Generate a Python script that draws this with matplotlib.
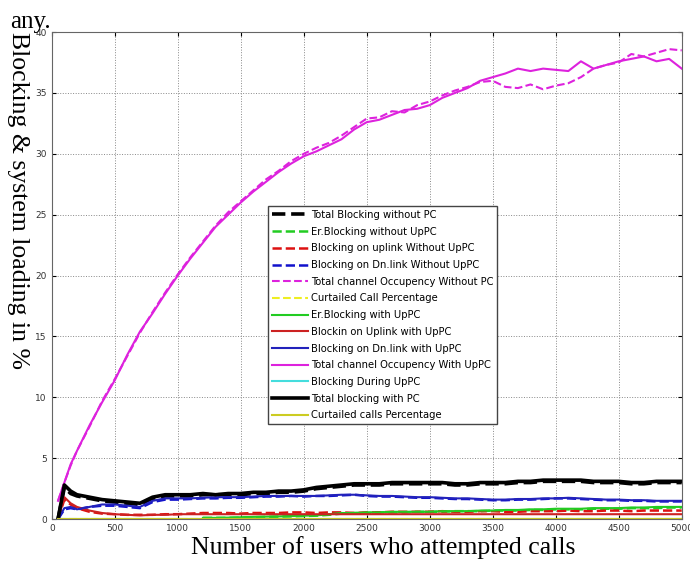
import numpy as np
import matplotlib
matplotlib.use('Agg')
import matplotlib.pyplot as plt

# sample grid (number of users who attempted calls)
x = np.r_[50, 100, 150, 200, np.arange(300, 5001, 100)]

# total channel occupancy
occ_pc = [1.5, 3.0, 4.5, 5.6, 7.7, 9.6, 11.4, 13.5, 15.4, 16.9, 18.5, 20.0,
          21.4, 22.7, 24.0, 25.0, 26.0, 26.9, 27.7, 28.5, 29.2, 29.8, 30.2,
          30.7, 31.2, 32.0, 32.6, 32.8, 33.2, 33.6, 33.7, 34.0, 34.6, 35.0,
          35.4, 36.0, 36.3, 36.6, 37.0, 36.8, 37.0, 36.9, 36.8, 37.6, 37.0,
          37.3, 37.6, 37.8, 38.0, 37.6, 37.8, 37.0]
occ_nopc = [1.5, 3.0, 4.4, 5.6, 7.6, 9.7, 11.5, 13.4, 15.3, 17.0, 18.6, 20.1,
            21.5, 22.8, 24.1, 25.2, 26.1, 27.0, 27.9, 28.6, 29.4, 30.0, 30.5,
            30.9, 31.5, 32.2, 32.9, 33.0, 33.5, 33.4, 34.0, 34.3, 34.8, 35.2,
            35.5, 35.9, 36.0, 35.5, 35.4, 35.7, 35.3, 35.6, 35.8, 36.3, 37.0,
            37.3, 37.5, 38.2, 38.0, 38.3, 38.6, 38.5]

# total blocking
tot_pc = [0.0, 2.8, 2.3, 2.0, 1.8, 1.6, 1.5, 1.4, 1.3, 1.8, 2.0, 2.0,
          2.0, 2.1, 2.0, 2.1, 2.1, 2.2, 2.2, 2.3, 2.3, 2.4, 2.6, 2.7, 2.8,
          2.9, 2.9, 2.9, 3.0, 3.0, 3.0, 3.0, 3.0, 2.9, 2.9, 3.0, 3.0, 3.0,
          3.1, 3.1, 3.2, 3.2, 3.2, 3.2, 3.1, 3.1, 3.1, 3.0, 3.0, 3.1, 3.1, 3.1]
tot_nopc = [0.0, 2.6, 2.1, 1.9, 1.7, 1.5, 1.4, 1.3, 1.2, 1.7, 1.9, 1.9,
            1.9, 2.0, 2.0, 2.0, 2.0, 2.1, 2.1, 2.2, 2.2, 2.3, 2.5, 2.6, 2.7,
            2.8, 2.8, 2.8, 2.9, 2.9, 2.9, 2.9, 2.9, 2.8, 2.8, 2.9, 2.9, 2.9,
            3.0, 3.0, 3.1, 3.1, 3.1, 3.1, 3.0, 3.0, 3.0, 2.9, 2.9, 3.0, 3.0, 3.0]

# blocking on downlink
dn_pc = [0.0, 0.9, 1.0, 0.8, 1.0, 1.2, 1.2, 1.1, 1.0, 1.5, 1.7, 1.7,
         1.7, 1.75, 1.8, 1.8, 1.8, 1.85, 1.9, 1.9, 1.9, 1.9, 1.9, 1.95, 2.0,
         2.0, 1.95, 1.9, 1.9, 1.85, 1.8, 1.8, 1.75, 1.7, 1.7, 1.65, 1.6, 1.6,
         1.65, 1.65, 1.7, 1.7, 1.75, 1.7, 1.65, 1.6, 1.6, 1.55, 1.55, 1.5, 1.5, 1.5]
dn_nopc = [0.0, 0.8, 0.9, 0.8, 1.0, 1.1, 1.1, 1.0, 0.9, 1.4, 1.6, 1.6,
           1.65, 1.7, 1.7, 1.75, 1.75, 1.8, 1.85, 1.85, 1.9, 1.85, 1.9, 1.9, 1.95,
           2.0, 1.9, 1.85, 1.85, 1.8, 1.75, 1.75, 1.7, 1.65, 1.65, 1.6, 1.55, 1.55,
           1.6, 1.6, 1.65, 1.7, 1.7, 1.65, 1.6, 1.55, 1.55, 1.5, 1.5, 1.45, 1.45, 1.45]

# blocking on uplink
up_pc = [0.0, 1.8, 1.3, 1.0, 0.7, 0.5, 0.4, 0.35, 0.3, 0.35, 0.35, 0.4,
         0.4, 0.4, 0.4, 0.4, 0.4, 0.4, 0.4, 0.4, 0.4, 0.4, 0.4, 0.4, 0.4,
         0.4, 0.4, 0.4, 0.4, 0.4, 0.4, 0.4, 0.4, 0.4, 0.4, 0.4, 0.4, 0.4,
         0.4, 0.4, 0.4, 0.4, 0.4, 0.4, 0.4, 0.4, 0.4, 0.4, 0.4, 0.4, 0.4, 0.4]
up_nopc = [0.0, 1.6, 1.2, 0.9, 0.6, 0.45, 0.4, 0.35, 0.35, 0.35, 0.4, 0.4,
           0.45, 0.5, 0.5, 0.5, 0.45, 0.5, 0.5, 0.5, 0.55, 0.55, 0.5, 0.55, 0.55,
           0.5, 0.55, 0.55, 0.6, 0.6, 0.6, 0.6, 0.65, 0.6, 0.6, 0.65, 0.65, 0.6,
           0.6, 0.65, 0.65, 0.65, 0.7, 0.65, 0.65, 0.7, 0.7, 0.65, 0.7, 0.7, 0.7, 0.7]

# erlang blocking (appears after ~1250 users)
er_pc = [np.nan] * 13 + [0.1, 0.1, 0.12, 0.15, 0.18, 0.2, 0.22, 0.25, 0.28,
                         0.3, 0.4, 0.5, 0.5, 0.55, 0.55, 0.6, 0.6, 0.6, 0.6,
                         0.65, 0.65, 0.65, 0.7, 0.7, 0.75, 0.75, 0.8, 0.8, 0.85,
                         0.85, 0.85, 0.9, 0.9, 0.9, 0.95, 0.95, 1.0, 1.0, 1.0]
er_nopc = [np.nan] * 13 + [0.1, 0.1, 0.1, 0.12, 0.15, 0.18, 0.2, 0.22, 0.25,
                           0.28, 0.35, 0.45, 0.5, 0.5, 0.55, 0.55, 0.55, 0.6, 0.6,
                           0.6, 0.65, 0.65, 0.65, 0.7, 0.7, 0.7, 0.75, 0.75, 0.8,
                           0.8, 0.8, 0.85, 0.85, 0.85, 0.9, 0.9, 0.9, 0.95, 0.95]

zeros = [0.0] * len(x)

fig = plt.figure(figsize=(6.9, 5.63), dpi=100)
ax = fig.add_axes([0.075, 0.078, 0.913, 0.865])

ax.plot(x, tot_nopc, color='black', ls='--', lw=2.6, label='Total Blocking without PC')
ax.plot(x, er_nopc, color='#22cc22', ls='--', lw=1.8, label='Er.Blocking without UpPC')
ax.plot(x, up_nopc, color='#dd1111', ls='--', lw=1.8, label='Blocking on uplink Without UpPC')
ax.plot(x, dn_nopc, color='#1111cc', ls='--', lw=1.8, label='Blocking on Dn.link Without UpPC')
ax.plot(x, occ_nopc, color='#dd22dd', ls='--', lw=1.5, label='Total channel Occupency Without PC')
ax.plot(x, zeros, color='#eeee22', ls='--', lw=1.5, label='Curtailed Call Percentage')
ax.plot(x, er_pc, color='#22cc22', lw=1.5, label='Er.Blocking with UpPC')
ax.plot(x, up_pc, color='#cc2222', lw=1.5, label='Blockin on Uplink with UpPC')
ax.plot(x, dn_pc, color='#2222bb', lw=1.5, label='Blocking on Dn.link with UpPC')
ax.plot(x, occ_pc, color='#dd22dd', lw=1.5, label='Total channel Occupency With UpPC')
ax.plot(x, zeros, color='#44dddd', lw=1.5, label='Blocking During UpPC')
ax.plot(x, tot_pc, color='black', lw=2.6, label='Total blocking with PC')
ax.plot(x, zeros, color='#cccc22', lw=1.5, label='Curtailed calls Percentage')

ax.set_xlim(0, 5000)
ax.set_ylim(0, 40)
ax.set_xticks(np.arange(0, 5001, 500))
ax.set_yticks(np.arange(0, 41, 5))
ax.tick_params(labelsize=6.5, labelcolor='#333333', length=3, direction='in',
               top=True, right=True)
ax.grid(True, ls=':', color='#888888', lw=0.7)
for s in ax.spines.values():
    s.set_color('#666666')

leg = ax.legend(loc='upper left', bbox_to_anchor=(0.381, 0.643),
                bbox_transform=fig.transFigure, fontsize=7.2, handlelength=3.6,
                labelspacing=0.67, handletextpad=0.3, borderpad=0.4,
                fancybox=False, framealpha=1)
leg.get_frame().set_edgecolor('#444444')

fig.text(0.015, 0.98, 'any.', family='Liberation Serif', fontsize=18,
         va='top', ha='left')
fig.text(0.026, 1 - 200 / 563, 'Blocking & system loading in %', family='Liberation Serif',
         fontsize=18.5, rotation=-90, va='center', ha='center')
fig.text(0.556, 0.027, 'Number of users who attempted calls', family='Liberation Serif',
         fontsize=18.5, va='center', ha='center')

fig.savefig('out.png', dpi=100)
